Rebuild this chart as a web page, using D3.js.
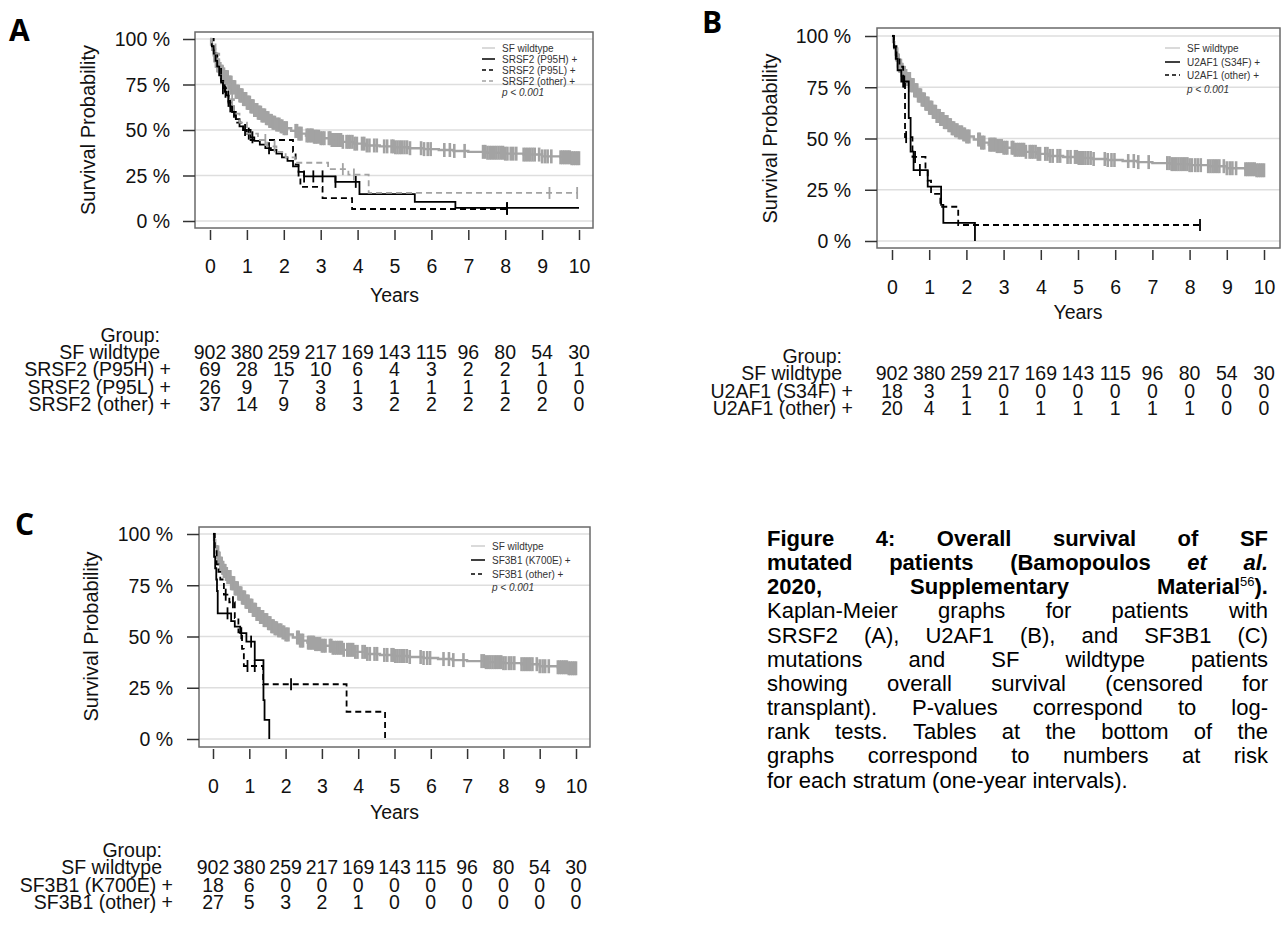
<!DOCTYPE html>
<html>
<head>
<meta charset="utf-8">
<script src="https://cdn.jsdelivr.net/npm/d3@7"></script>
<style>
  html, body { margin: 0; padding: 0; background: #fff; }
  svg { display: block; }
</style>
</head>
<body>
<div id="chart"></div>
<script>
// Kaplan-Meier panels A/B/C (SRSF2, U2AF1, SF3B1) with numbers-at-risk tables + caption

const yearTicks = [0, 1, 2, 3, 4, 5, 6, 7, 8, 9, 10];
const pctTicks = [0, 25, 50, 75, 100];

// ── SF wildtype (same cohort in every panel) ──
const wtTime = [0, 0.03, 0.06, 0.1, 0.15, 0.2, 0.25, 0.3, 0.35, 0.4, 0.5, 0.6, 0.7, 0.8, 0.9, 1.0, 1.1, 1.2, 1.3, 1.4,
  1.5, 1.6, 1.7, 1.8, 1.9, 2.0, 2.2, 2.4, 2.6, 2.8, 3.0, 3.3, 3.6, 3.9, 4.2, 4.6, 5.0, 5.4, 5.8, 6.2, 6.6, 7.0,
  7.5, 8.0, 8.5, 9.0, 9.5, 9.8];
const wtSurv = [100, 97, 94, 91, 88, 85.5, 83.5, 82, 80.5, 79, 76, 73.5, 71, 69, 67, 65, 63, 61, 59.5, 58,
  56.5, 55, 54, 53, 52, 51, 49.5, 48, 47, 46.3, 45.5, 44.5, 43.5, 42.5, 41.5, 41, 40.5, 40, 39.5, 39, 38.5, 38,
  37.5, 37, 36.5, 35.5, 35, 34.5];
const wtCensor = [0.12, 0.14, 0.16, 0.18, 0.2, 0.22, 0.24, 0.26, 0.28, 0.3, 0.32, 0.34, 0.36, 0.38, 0.4, 0.42,
  0.44, 0.46, 0.48, 0.5, 0.52, 0.54, 0.56, 0.58, 0.6, 0.62, 0.64, 0.66, 0.68, 0.7, 0.72, 0.74, 0.76, 0.78, 0.8,
  0.82, 0.84, 0.86, 0.88, 0.9, 0.92, 0.94, 0.96, 0.98, 1.0, 1.02, 1.04, 1.06, 1.08, 1.1, 1.12, 1.14, 1.16, 1.18,
  1.2, 1.22, 1.24, 1.26, 1.28, 1.3, 1.32, 1.34, 1.36, 1.38, 1.4, 1.43, 1.46, 1.49, 1.52, 1.55, 1.58, 1.61, 1.64,
  1.67, 1.7, 1.73, 1.76, 1.8, 1.84, 1.88, 1.92, 1.96, 2.0, 2.04, 2.08, 2.32, 2.36, 2.4, 2.44, 2.48, 2.62, 2.66,
  2.7, 2.74, 2.78, 2.82, 2.86, 2.9, 2.95, 3.0, 3.05, 3.1, 3.22, 3.26, 3.3, 3.35, 3.4, 3.45, 3.5, 3.55, 3.6, 3.7,
  3.75, 3.8, 3.86, 3.92, 3.98, 4.12, 4.18, 4.25, 4.32, 4.45, 4.52, 4.72, 4.8, 4.92, 4.97, 5.02, 5.08, 5.14, 5.2,
  5.27, 5.34, 5.42, 5.72, 5.8, 5.9, 5.98, 6.35, 6.5, 6.62, 6.9, 7.4, 7.46, 7.52, 7.58, 7.64, 7.7, 7.76, 7.82,
  7.88, 7.94, 8.0, 8.06, 8.15, 8.22, 8.3, 8.5, 8.56, 8.62, 8.68, 8.74, 8.8, 8.92, 9.0, 9.08, 9.15, 9.25, 9.5,
  9.55, 9.6, 9.65, 9.7, 9.75, 9.8, 9.85, 9.9, 9.95, 10.0];
const wtRisk = [902, 380, 259, 217, 169, 143, 115, 96, 80, 54, 30];

// ── A: SRSF2 ──
const p95hTime = [0, 0.05, 0.1, 0.15, 0.2, 0.25, 0.3, 0.35, 0.4, 0.45, 0.5, 0.55, 0.6, 0.7, 0.8, 0.9, 1.0, 1.1,
  1.2, 1.35, 1.5, 1.65, 1.8, 1.95, 2.1, 2.25, 2.4, 2.55, 3.4, 4.05, 5.55, 6.65];
const p95hSurv = [100, 96, 92, 88, 85, 80, 76, 73, 71, 69, 66, 63, 60, 56, 52, 50, 48, 46, 44, 42, 40, 39, 37, 35,
  33, 30, 27, 24.5, 21.5, 14.8, 10.5, 7.2];
const p95hCensor = [0.35, 0.42, 0.5, 0.55, 0.65, 0.95, 1.05, 1.15, 1.6, 2.55, 2.8, 3.05, 3.4, 3.95, 8.05];
const p95hRisk = [69, 28, 15, 10, 6, 4, 3, 2, 2, 1, 1];

const p95lTime = [0, 0.1, 0.2, 0.3, 0.4, 0.5, 0.6, 0.7, 0.9, 1.1, 2.25, 2.32, 2.4, 2.45, 3.05, 3.85];
const p95lSurv = [100, 92, 85, 77, 73, 65, 58, 54, 50, 44.5, 38, 31, 25, 18.7, 12.6, 6.6];
const p95lCensor = [8.05];
const p95lRisk = [26, 9, 7, 3, 1, 1, 1, 1, 1, 0, 0];

const srsf2OtherTime = [0, 0.05, 0.15, 0.25, 0.35, 0.45, 0.55, 0.65, 0.8, 1.0, 1.3, 1.55, 1.8, 2.05, 2.3, 3.2,
  3.75, 4.3];
const srsf2OtherSurv = [100, 97, 92, 86, 81, 75, 67, 59, 54, 48, 44.5, 41, 38, 35, 32, 28.5, 25.5, 15.4];
const srsf2OtherCensor = [0.6, 1.5, 1.75, 3.6, 3.9, 9.2, 9.95];
const srsf2OtherRisk = [37, 14, 9, 8, 3, 2, 2, 2, 2, 2, 0];

// ── B: U2AF1 ──
const s34fTime = [0, 0.05, 0.1, 0.15, 0.25, 0.45, 0.5, 0.58, 0.96, 1.32, 1.38, 2.23];
const s34fSurv = [100, 94.4, 88.9, 83.3, 77.8, 60, 43.6, 34.6, 26.5, 17.6, 8.8, 0];
const s34fCensor = [0.3, 0.75];
const s34fRisk = [18, 3, 1, 0, 0, 0, 0, 0, 0, 0, 0];

const u2af1OtherTime = [0, 0.05, 0.12, 0.2, 0.3, 0.35, 0.55, 0.9, 0.96, 1.05, 1.3, 1.78];
const u2af1OtherSurv = [100, 95, 90, 85, 77.8, 50.7, 41, 35, 29.5, 23, 16.7, 7.8];
const u2af1OtherCensor = [0.33, 0.38, 0.62, 8.28];
const u2af1OtherRisk = [20, 4, 1, 1, 1, 1, 1, 1, 1, 0, 0];

// ── C: SF3B1 ──
const k700eTime = [0, 0.03, 0.06, 0.09, 0.11, 0.13, 0.5, 0.6, 0.75, 0.92, 1.15, 1.39, 1.42, 1.55];
const k700eSurv = [100, 88.9, 83.3, 77.8, 72.2, 61.3, 57.5, 54.8, 51.6, 47.5, 38.5, 19, 9.3, 0];
const k700eCensor = [0.4, 0.78, 1.05];
const k700eRisk = [18, 6, 0, 0, 0, 0, 0, 0, 0, 0, 0];

const sf3b1OtherTime = [0, 0.05, 0.1, 0.15, 0.2, 0.3, 0.45, 0.6, 0.7, 0.8, 0.85, 1.38, 3.68, 4.74];
const sf3b1OtherSurv = [100, 92.6, 85.2, 81.5, 77.8, 70.4, 66.7, 59, 52, 44, 35.6, 26.7, 13.3, 0];
const sf3b1OtherCensor = [0.35, 0.55, 0.95, 1.15, 2.15];
const sf3b1OtherRisk = [27, 5, 3, 2, 1, 0, 0, 0, 0, 0, 0];

const GRAY = '#a3a3a3';
const FONT = '"Liberation Sans", Arial, sans-serif';
const TXT = 19.5;   // axis tick labels
const TAB = 19.5;   // risk table

const W = 1284, H = 929;
const svg = d3.select('#chart').append('svg').attr('width', W).attr('height', H);
svg.append('rect').attr('width', W).attr('height', H).attr('fill', '#fff');

function wt() {
  return { label: 'SF wildtype', time: wtTime, surv: wtSurv, censor: wtCensor, end: 10, risk: wtRisk,
    color: GRAY, width: 2.4, dash: null, legendColor: '#b5b5b5', legendWidth: 1 };
}

const panels = [
  {
    letter: 'A', letterX: 9, letterY: 41,
    box: [195, 32, 593, 228], xr: [210, 579], yr: [221, 39],
    tickLabelY: 266, yearsY: 295, yTitleX: 88, yLabelRight: 170,
    legend: { x0: 482, x1: 495, tx: 502, rows: [48, 59, 70, 81, 92] },
    table: { groupY: 335, rows: [352, 369, 387, 404], labelRight: 171 },
    series: [
      wt(),
      { label: 'SRSF2 (P95H) +', time: p95hTime, surv: p95hSurv, censor: p95hCensor, end: 10, risk: p95hRisk,
        color: '#000', width: 1.8, dash: null },
      { label: 'SRSF2 (P95L) +', time: p95lTime, surv: p95lSurv, censor: p95lCensor, end: 8.05, risk: p95lRisk,
        color: '#000', width: 1.8, dash: '6,4' },
      { label: 'SRSF2 (other) +', time: srsf2OtherTime, surv: srsf2OtherSurv, censor: srsf2OtherCensor, end: 9.95,
        risk: srsf2OtherRisk, color: GRAY, width: 1.8, dash: '6,4' }
    ]
  },
  {
    letter: 'B', letterX: 702, letterY: 33,
    box: [877, 28, 1280, 248], xr: [892, 1264], yr: [241, 36],
    tickLabelY: 287, yearsY: 312, yTitleX: 770, yLabelRight: 851,
    legend: { x0: 1165, x1: 1180, tx: 1187, rows: [48, 62, 75, 89] },
    table: { groupY: 356, rows: [373, 391, 408], labelRight: 853 },
    series: [
      wt(),
      { label: 'U2AF1 (S34F) +', time: s34fTime, surv: s34fSurv, censor: s34fCensor, end: 2.23, risk: s34fRisk,
        color: '#000', width: 1.8, dash: null },
      { label: 'U2AF1 (other) +', time: u2af1OtherTime, surv: u2af1OtherSurv, censor: u2af1OtherCensor, end: 8.28,
        risk: u2af1OtherRisk, color: '#000', width: 1.8, dash: '6,4' }
    ]
  },
  {
    letter: 'C', letterX: 15, letterY: 535,
    box: [199, 527, 590, 747], xr: [213, 576], yr: [739, 534],
    tickLabelY: 786, yearsY: 812, yTitleX: 91, yLabelRight: 173,
    legend: { x0: 471, x1: 485, tx: 492, rows: [546, 560, 574, 587] },
    table: { groupY: 850, rows: [867, 885, 902], labelRight: 173 },
    series: [
      wt(),
      { label: 'SF3B1 (K700E) +', time: k700eTime, surv: k700eSurv, censor: k700eCensor, end: 1.55, risk: k700eRisk,
        color: '#000', width: 1.8, dash: null },
      { label: 'SF3B1 (other) +', time: sf3b1OtherTime, surv: sf3b1OtherSurv, censor: sf3b1OtherCensor, end: 4.74,
        risk: sf3b1OtherRisk, color: '#000', width: 1.8, dash: '6,4' }
    ]
  }
];

function survAt(s, t) {
  const i = d3.bisectRight(s.time, t) - 1;
  return s.surv[Math.max(0, i)];
}

function drawPanel(p) {
  const g = svg.append('g').attr('font-family', FONT);
  const [bx0, by0, bx1, by1] = p.box;
  const x = d3.scaleLinear().domain([0, 10]).range(p.xr);
  const y = d3.scaleLinear().domain([0, 100]).range(p.yr);

  // panel letter
  g.append('text').attr('x', p.letterX).attr('y', p.letterY)
    .attr('font-family', '"Open Sans", "Liberation Sans", sans-serif')
    .attr('font-weight', 700).attr('font-size', 30).attr('fill', '#000').text(p.letter);

  // grid
  g.append('g').selectAll('line').data(pctTicks).enter().append('line')
    .attr('x1', bx0).attr('x2', bx1)
    .attr('y1', d => y(d)).attr('y2', d => y(d))
    .attr('stroke', '#dedede').attr('stroke-width', 1.5);

  // box
  g.append('rect').attr('x', bx0).attr('y', by0).attr('width', bx1 - bx0).attr('height', by1 - by0)
    .attr('fill', 'none').attr('stroke', '#6a6a6a').attr('stroke-width', 1.5);

  // y axis
  const ya = g.append('g').attr('transform', `translate(${bx0},0)`)
    .call(d3.axisLeft(y).tickValues(pctTicks).tickSize(12).tickFormat(d => d + ' %'));
  ya.select('.domain').remove();
  ya.selectAll('line').attr('stroke', '#333').attr('stroke-width', 1.5);
  ya.selectAll('text').attr('x', p.yLabelRight - bx0).attr('dy', '0.35em')
    .attr('font-family', FONT).attr('font-size', TXT).attr('fill', '#111');

  // x axis
  const xa = g.append('g').attr('transform', `translate(0,${by1 + 2})`)
    .call(d3.axisBottom(x).tickValues(yearTicks).tickSize(10));
  xa.select('.domain').remove();
  xa.selectAll('line').attr('stroke', '#333').attr('stroke-width', 1.5);
  xa.selectAll('text').attr('y', p.tickLabelY - by1 - 2).attr('dy', '0.35em')
    .attr('font-family', FONT).attr('font-size', TXT).attr('fill', '#111');

  g.append('text').attr('x', (p.xr[0] + p.xr[1]) / 2).attr('y', p.yearsY).attr('dy', '0.35em')
    .attr('text-anchor', 'middle').attr('font-size', TXT).attr('fill', '#111').text('Years');

  g.append('text')
    .attr('transform', `translate(${p.yTitleX},${(p.yr[0] + p.yr[1]) / 2}) rotate(-90)`)
    .attr('dy', '0.35em').attr('text-anchor', 'middle').attr('font-size', 20).attr('fill', '#111')
    .text('Survival Probability');

  // curves
  const line = d3.line().curve(d3.curveStepAfter).x(d => x(d[0])).y(d => y(d[1]));
  p.series.forEach(s => {
    const pts = s.time.map((t, i) => [t, s.surv[i]]);
    pts.push([s.end, s.surv[s.surv.length - 1]]);
    g.append('path').datum(pts).attr('d', line).attr('fill', 'none')
      .attr('stroke', s.color).attr('stroke-width', s.width)
      .attr('stroke-dasharray', s.dash);
    const half = s === p.series[0] ? 7 : 6;
    g.append('g').selectAll('line').data(s.censor).enter().append('line')
      .attr('x1', d => x(d)).attr('x2', d => x(d))
      .attr('y1', d => y(survAt(s, d)) - half).attr('y2', d => y(survAt(s, d)) + half)
      .attr('stroke', s.color).attr('stroke-width', s === p.series[0] ? 2.6 : 1.8);
  });

  // legend
  const lg = g.append('g').attr('font-size', 10).attr('fill', '#333');
  p.series.forEach((s, i) => {
    const ly = p.legend.rows[i];
    lg.append('line').attr('x1', p.legend.x0).attr('x2', p.legend.x1).attr('y1', ly).attr('y2', ly)
      .attr('stroke', s.legendColor || s.color).attr('stroke-width', s.legendWidth || 1.5)
      .attr('stroke-dasharray', s.dash ? '4,3' : null);
    lg.append('text').attr('x', p.legend.tx).attr('y', ly).attr('dy', '0.35em').text(s.label);
  });
  lg.append('text').attr('x', p.legend.tx).attr('y', p.legend.rows[p.series.length]).attr('dy', '0.35em')
    .attr('font-style', 'italic').text('p < 0.001');

  // numbers at risk
  const tb = g.append('g').attr('font-size', TAB).attr('fill', '#111');
  tb.append('text').attr('x', p.table.labelRight - 11).attr('y', p.table.groupY).attr('dy', '0.35em')
    .attr('text-anchor', 'end').text('Group:');
  p.series.forEach((s, i) => {
    const ry = p.table.rows[i];
    tb.append('text').attr('x', i === 0 ? p.table.labelRight - 11 : p.table.labelRight).attr('y', ry)
      .attr('dy', '0.35em').attr('text-anchor', 'end').text(s.label);
    tb.append('g').selectAll('text').data(s.risk).enter().append('text')
      .attr('x', (d, j) => x(yearTicks[j])).attr('y', ry).attr('dy', '0.35em')
      .attr('text-anchor', 'middle').text(d => d);
  });
}

panels.forEach(drawPanel);

// ── Caption (justified) ──
const captionLines = [
  { text: 'Figure 4: Overall survival of SF', bold: true },
  { text: 'mutated patients (Bamopoulos *et* *al.*', bold: true },
  { text: '2020, Supplementary Material^56^).', bold: true },
  { text: 'Kaplan-Meier graphs for patients with' },
  { text: 'SRSF2 (A), U2AF1 (B), and SF3B1 (C)' },
  { text: 'mutations and SF wildtype patients' },
  { text: 'showing overall survival (censored for' },
  { text: 'transplant). P-values correspond to log-' },
  { text: 'rank tests. Tables at the bottom of the' },
  { text: 'graphs correspond to numbers at risk' },
  { text: 'for each stratum (one-year intervals).', last: true }
];

const cap = { x0: 767, x1: 1268, y0: 546, lh: 24.15, size: 22 };
const cg = svg.append('g').attr('font-family', FONT).attr('font-size', cap.size).attr('fill', '#000');

captionLines.forEach((ln, li) => {
  const yy = cap.y0 + li * cap.lh;
  const words = ln.text.split(' ').map(w => {
    const t = cg.append('text').attr('y', yy).attr('font-weight', ln.bold ? 700 : 400);
    let back = 0;
    w.split(/(\*[^*]+\*|\^[^^]+\^)/).filter(Boolean).forEach(part => {
      let ts;
      if (part.startsWith('*')) {
        ts = t.append('tspan').attr('font-style', 'italic').text(part.slice(1, -1));
      } else if (part.startsWith('^')) {
        t.append('tspan').attr('font-size', 13).attr('font-weight', 400).attr('dy', -8).text(part.slice(1, -1));
        back = 8;
        return;
      } else {
        ts = t.append('tspan').text(part);
      }
      if (back) { ts.attr('dy', back); back = 0; }
    });
    return { node: t, w: t.node().getComputedTextLength() };
  });
  const total = d3.sum(words, d => d.w);
  const gap = ln.last ? cap.size * 0.278 : (cap.x1 - cap.x0 - total) / (words.length - 1);
  let cx = cap.x0;
  words.forEach(wd => { wd.node.attr('x', cx); cx += wd.w + gap; });
});
</script>
</body>
</html>
